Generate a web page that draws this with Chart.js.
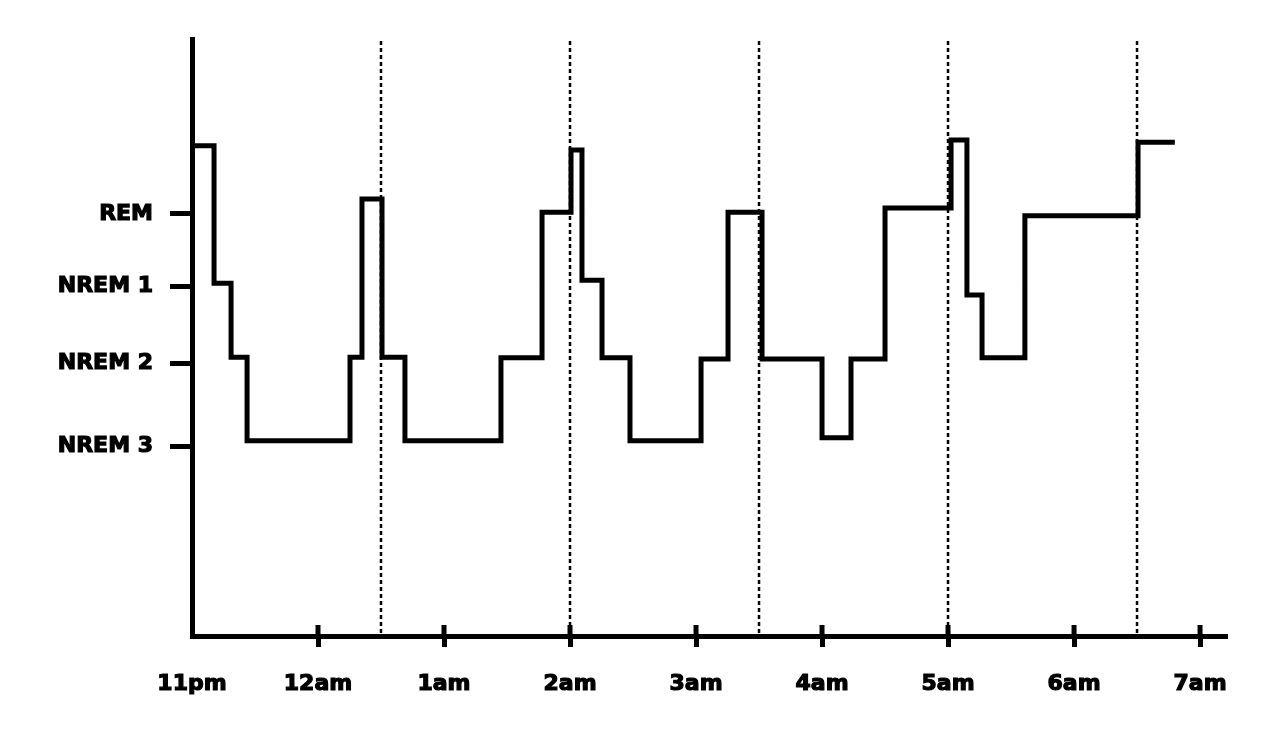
<!DOCTYPE html>
<html>
<head>
<meta charset="utf-8">
<script src="https://cdn.jsdelivr.net/npm/chart.js@4/dist/chart.umd.min.js"></script>
<style>
  html, body { margin: 0; padding: 0; background: #fff; }
  #wrap { width: 1280px; height: 731px; position: relative; }
</style>
</head>
<body>
<div id="wrap"><canvas id="sleepChart"></canvas></div>
<script>
// hours after 11pm where each stage starts, and the plotted depth level
const stepHours = [0, 0.175, 0.31, 0.437, 1.254, 1.349, 1.508, 1.69, 2.452, 2.778, 3.008, 3.095, 3.254, 3.476, 4.04, 4.254, 4.524, 5.0, 5.23, 5.5, 6.024, 6.15, 6.27, 6.61, 7.508, 7.8];
const stepDepth = [82.1, 59.1, 46.7, 32.7, 46.7, 73.2, 46.7, 32.7, 46.6, 71.0, 81.4, 59.6, 46.6, 32.7, 46.4, 71.0, 46.4, 33.2, 46.4, 71.7, 83.1, 57.1, 46.6, 70.4, 82.7, 82.7];

// axis ticks
const hourTicks = [0, 1, 2, 3, 4, 5, 6, 7, 8];
const hourLabels = ['11pm', '12am', '1am', '2am', '3am', '4am', '5am', '6am', '7am'];
const stageTicks = [70.7, 58.5, 45.7, 31.8];
const stageLabels = ['REM', 'NREM 1', 'NREM 2', 'NREM 3'];

// 90-minute cycle markers (dotted lines)
const cycleHours = [1.5, 3, 4.5, 6, 7.5];

const labelFont = { family: "'DejaVu Sans', sans-serif", size: 22, weight: 'bold' };

// dotted cycle lines + inner half of the x tick marks
const extrasPlugin = {
    id: 'extras',
    beforeDatasetsDraw(chart) {
        const { ctx, chartArea, scales } = chart;
        ctx.save();
        ctx.strokeStyle = '#000';
        ctx.lineWidth = 2.5;
        ctx.setLineDash([4, 3]);
        cycleHours.forEach(h => {
            const x = scales.x.getPixelForValue(h);
            ctx.beginPath();
            ctx.moveTo(x, chartArea.top + 2);
            ctx.lineTo(x, chartArea.bottom);
            ctx.stroke();
        });
        ctx.setLineDash([]);
        ctx.lineWidth = 5;
        hourTicks.forEach(h => {
            if (h === 0) return;
            const x = scales.x.getPixelForValue(h);
            ctx.beginPath();
            ctx.moveTo(x, chartArea.bottom);
            ctx.lineTo(x, chartArea.bottom - 11);
            ctx.stroke();
        });
        ctx.restore();
    }
};

const ctx = document.getElementById('sleepChart').getContext('2d');
new Chart(ctx, {
    type: 'line',
    data: {
        datasets: [{
            data: stepHours.map((h, i) => ({ x: h, y: stepDepth[i] })),
            borderColor: '#000',
            borderWidth: 5,
            stepped: true,
            pointRadius: 0,
            borderJoinStyle: 'miter',
            borderCapStyle: 'butt',
            fill: false
        }]
    },
    options: {
        responsive: true,
        maintainAspectRatio: false,
        animation: false,
        layout: { padding: { top: 39, right: 53, left: 0, bottom: 0 } },
        plugins: { legend: { display: false }, tooltip: { enabled: false } },
        scales: {
            x: {
                type: 'linear',
                min: 0,
                max: 8.214,
                afterFit: s => { s.height = 95; },
                afterBuildTicks: s => { s.ticks = hourTicks.map(v => ({ value: v })); },
                ticks: {
                    callback: (v, i) => hourLabels[i],
                    color: '#000',
                    font: labelFont,
                    textStrokeColor: '#000',
                    textStrokeWidth: 1.2,
                    padding: 24,
                    maxRotation: 0,
                    autoSkip: false
                },
                grid: {
                    drawOnChartArea: false,
                    tickLength: 11,
                    tickWidth: 5,
                    tickColor: c => (c.tick && c.tick.value === 0) ? 'rgba(0,0,0,0)' : '#000'
                },
                border: { color: '#000', width: 5 }
            },
            y: {
                min: 0,
                max: 100,
                afterFit: s => { s.width = 192; },
                afterBuildTicks: s => { s.ticks = stageTicks.map(v => ({ value: v })); },
                ticks: {
                    callback: (v, i) => stageLabels[i],
                    color: '#000',
                    font: labelFont,
                    textStrokeColor: '#000',
                    textStrokeWidth: 1.2,
                    padding: 17,
                    autoSkip: false
                },
                grid: {
                    drawOnChartArea: false,
                    tickLength: 22,
                    tickWidth: 5,
                    tickColor: '#000'
                },
                border: { color: '#000', width: 5 }
            }
        }
    },
    plugins: [extrasPlugin]
});
</script>
</body>
</html>
